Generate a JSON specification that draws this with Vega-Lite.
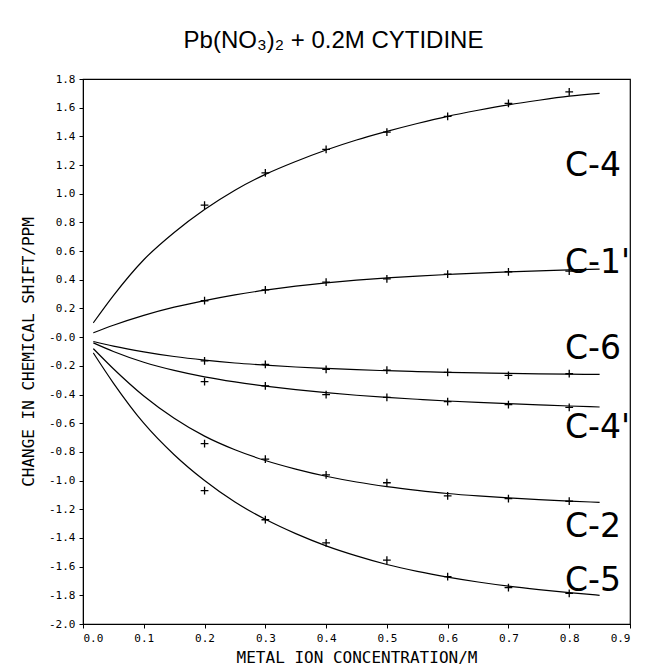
{
  "$schema": "https://vega.github.io/schema/vega-lite/v6.json",
  "autosize": {"type": "none"},
  "padding": {"left": 83, "top": 79, "right": 16, "bottom": 42},
  "width": 547,
  "height": 545,
  "background": "white",
  "title": {
    "text": "Pb(NO₃)₂ + 0.2M CYTIDINE",
    "font": "Liberation Sans",
    "fontSize": 24,
    "fontWeight": "normal",
    "color": "black",
    "anchor": "middle",
    "dx": -23,
    "offset": 20
  },
  "config": {
    "view": {"stroke": "black", "strokeWidth": 1.2},
    "axis": {
      "domainColor": "black",
      "tickColor": "black",
      "labelColor": "black",
      "titleColor": "black",
      "grid": false,
      "labelFont": "DejaVu Sans Mono",
      "titleFont": "DejaVu Sans Mono",
      "labelFontSize": 11,
      "titleFontSize": 16,
      "titleFontWeight": "normal",
      "tickSize": 4,
      "labelOverlap": false
    }
  },
  "datasets": {
    "curves": [
      {"series": "C-4", "x": 0.017, "y": 0.10},
      {"series": "C-4", "x": 0.05, "y": 0.29},
      {"series": "C-4", "x": 0.1, "y": 0.54},
      {"series": "C-4", "x": 0.15, "y": 0.73},
      {"series": "C-4", "x": 0.2, "y": 0.89},
      {"series": "C-4", "x": 0.25, "y": 1.025},
      {"series": "C-4", "x": 0.3, "y": 1.135},
      {"series": "C-4", "x": 0.35, "y": 1.225},
      {"series": "C-4", "x": 0.4, "y": 1.305},
      {"series": "C-4", "x": 0.45, "y": 1.375},
      {"series": "C-4", "x": 0.5, "y": 1.435},
      {"series": "C-4", "x": 0.55, "y": 1.49},
      {"series": "C-4", "x": 0.6, "y": 1.54},
      {"series": "C-4", "x": 0.65, "y": 1.582},
      {"series": "C-4", "x": 0.7, "y": 1.62},
      {"series": "C-4", "x": 0.75, "y": 1.652},
      {"series": "C-4", "x": 0.8, "y": 1.68},
      {"series": "C-4", "x": 0.85, "y": 1.70},
      {"series": "C-1'", "x": 0.017, "y": 0.03},
      {"series": "C-1'", "x": 0.05, "y": 0.083},
      {"series": "C-1'", "x": 0.1, "y": 0.152},
      {"series": "C-1'", "x": 0.15, "y": 0.209},
      {"series": "C-1'", "x": 0.2, "y": 0.255},
      {"series": "C-1'", "x": 0.25, "y": 0.295},
      {"series": "C-1'", "x": 0.3, "y": 0.328},
      {"series": "C-1'", "x": 0.35, "y": 0.356},
      {"series": "C-1'", "x": 0.4, "y": 0.379},
      {"series": "C-1'", "x": 0.45, "y": 0.398},
      {"series": "C-1'", "x": 0.5, "y": 0.413},
      {"series": "C-1'", "x": 0.55, "y": 0.426},
      {"series": "C-1'", "x": 0.6, "y": 0.437},
      {"series": "C-1'", "x": 0.65, "y": 0.447},
      {"series": "C-1'", "x": 0.7, "y": 0.455},
      {"series": "C-1'", "x": 0.75, "y": 0.462},
      {"series": "C-1'", "x": 0.8, "y": 0.469},
      {"series": "C-1'", "x": 0.85, "y": 0.475},
      {"series": "C-6", "x": 0.017, "y": -0.03},
      {"series": "C-6", "x": 0.05, "y": -0.062},
      {"series": "C-6", "x": 0.1, "y": -0.102},
      {"series": "C-6", "x": 0.15, "y": -0.135},
      {"series": "C-6", "x": 0.2, "y": -0.16},
      {"series": "C-6", "x": 0.25, "y": -0.18},
      {"series": "C-6", "x": 0.3, "y": -0.195},
      {"series": "C-6", "x": 0.35, "y": -0.208},
      {"series": "C-6", "x": 0.4, "y": -0.218},
      {"series": "C-6", "x": 0.45, "y": -0.227},
      {"series": "C-6", "x": 0.5, "y": -0.234},
      {"series": "C-6", "x": 0.55, "y": -0.24},
      {"series": "C-6", "x": 0.6, "y": -0.245},
      {"series": "C-6", "x": 0.65, "y": -0.249},
      {"series": "C-6", "x": 0.7, "y": -0.253},
      {"series": "C-6", "x": 0.75, "y": -0.256},
      {"series": "C-6", "x": 0.8, "y": -0.258},
      {"series": "C-6", "x": 0.85, "y": -0.26},
      {"series": "C-4'", "x": 0.017, "y": -0.04},
      {"series": "C-4'", "x": 0.05, "y": -0.10},
      {"series": "C-4'", "x": 0.1, "y": -0.175},
      {"series": "C-4'", "x": 0.15, "y": -0.232},
      {"series": "C-4'", "x": 0.2, "y": -0.277},
      {"series": "C-4'", "x": 0.25, "y": -0.312},
      {"series": "C-4'", "x": 0.3, "y": -0.341},
      {"series": "C-4'", "x": 0.35, "y": -0.366},
      {"series": "C-4'", "x": 0.4, "y": -0.387},
      {"series": "C-4'", "x": 0.45, "y": -0.405},
      {"series": "C-4'", "x": 0.5, "y": -0.42},
      {"series": "C-4'", "x": 0.55, "y": -0.433},
      {"series": "C-4'", "x": 0.6, "y": -0.445},
      {"series": "C-4'", "x": 0.65, "y": -0.455},
      {"series": "C-4'", "x": 0.7, "y": -0.464},
      {"series": "C-4'", "x": 0.75, "y": -0.472},
      {"series": "C-4'", "x": 0.8, "y": -0.48},
      {"series": "C-4'", "x": 0.85, "y": -0.487},
      {"series": "C-2", "x": 0.017, "y": -0.08},
      {"series": "C-2", "x": 0.05, "y": -0.22},
      {"series": "C-2", "x": 0.1, "y": -0.41},
      {"series": "C-2", "x": 0.15, "y": -0.565},
      {"series": "C-2", "x": 0.2, "y": -0.69},
      {"series": "C-2", "x": 0.25, "y": -0.785},
      {"series": "C-2", "x": 0.3, "y": -0.86},
      {"series": "C-2", "x": 0.35, "y": -0.92},
      {"series": "C-2", "x": 0.4, "y": -0.97},
      {"series": "C-2", "x": 0.45, "y": -1.01},
      {"series": "C-2", "x": 0.5, "y": -1.042},
      {"series": "C-2", "x": 0.55, "y": -1.068},
      {"series": "C-2", "x": 0.6, "y": -1.09},
      {"series": "C-2", "x": 0.65, "y": -1.107},
      {"series": "C-2", "x": 0.7, "y": -1.121},
      {"series": "C-2", "x": 0.75, "y": -1.133},
      {"series": "C-2", "x": 0.8, "y": -1.143},
      {"series": "C-2", "x": 0.85, "y": -1.152},
      {"series": "C-5", "x": 0.017, "y": -0.11},
      {"series": "C-5", "x": 0.05, "y": -0.32},
      {"series": "C-5", "x": 0.1, "y": -0.60},
      {"series": "C-5", "x": 0.15, "y": -0.82},
      {"series": "C-5", "x": 0.2, "y": -1.00},
      {"series": "C-5", "x": 0.25, "y": -1.15},
      {"series": "C-5", "x": 0.3, "y": -1.27},
      {"series": "C-5", "x": 0.35, "y": -1.37},
      {"series": "C-5", "x": 0.4, "y": -1.455},
      {"series": "C-5", "x": 0.45, "y": -1.525},
      {"series": "C-5", "x": 0.5, "y": -1.585},
      {"series": "C-5", "x": 0.55, "y": -1.633},
      {"series": "C-5", "x": 0.6, "y": -1.673},
      {"series": "C-5", "x": 0.65, "y": -1.707},
      {"series": "C-5", "x": 0.7, "y": -1.736},
      {"series": "C-5", "x": 0.75, "y": -1.76},
      {"series": "C-5", "x": 0.8, "y": -1.781},
      {"series": "C-5", "x": 0.85, "y": -1.80}
    ],
    "points": [
      {"series": "C-4", "x": 0.2, "y": 0.92},
      {"series": "C-4", "x": 0.3, "y": 1.145},
      {"series": "C-4", "x": 0.4, "y": 1.31},
      {"series": "C-4", "x": 0.5, "y": 1.43},
      {"series": "C-4", "x": 0.6, "y": 1.54},
      {"series": "C-4", "x": 0.7, "y": 1.63},
      {"series": "C-4", "x": 0.8, "y": 1.71},
      {"series": "C-1'", "x": 0.2, "y": 0.254},
      {"series": "C-1'", "x": 0.3, "y": 0.33},
      {"series": "C-1'", "x": 0.4, "y": 0.384},
      {"series": "C-1'", "x": 0.5, "y": 0.407},
      {"series": "C-1'", "x": 0.6, "y": 0.44},
      {"series": "C-1'", "x": 0.7, "y": 0.456},
      {"series": "C-1'", "x": 0.8, "y": 0.46},
      {"series": "C-6", "x": 0.2, "y": -0.165},
      {"series": "C-6", "x": 0.3, "y": -0.19},
      {"series": "C-6", "x": 0.4, "y": -0.225},
      {"series": "C-6", "x": 0.5, "y": -0.23},
      {"series": "C-6", "x": 0.6, "y": -0.246},
      {"series": "C-6", "x": 0.7, "y": -0.267},
      {"series": "C-6", "x": 0.8, "y": -0.255},
      {"series": "C-4'", "x": 0.2, "y": -0.31},
      {"series": "C-4'", "x": 0.3, "y": -0.34},
      {"series": "C-4'", "x": 0.4, "y": -0.40},
      {"series": "C-4'", "x": 0.5, "y": -0.42},
      {"series": "C-4'", "x": 0.6, "y": -0.45},
      {"series": "C-4'", "x": 0.7, "y": -0.47},
      {"series": "C-4'", "x": 0.8, "y": -0.49},
      {"series": "C-2", "x": 0.2, "y": -0.742},
      {"series": "C-2", "x": 0.3, "y": -0.85},
      {"series": "C-2", "x": 0.4, "y": -0.96},
      {"series": "C-2", "x": 0.5, "y": -1.015},
      {"series": "C-2", "x": 0.6, "y": -1.107},
      {"series": "C-2", "x": 0.7, "y": -1.126},
      {"series": "C-2", "x": 0.8, "y": -1.144},
      {"series": "C-5", "x": 0.2, "y": -1.07},
      {"series": "C-5", "x": 0.3, "y": -1.273},
      {"series": "C-5", "x": 0.4, "y": -1.435},
      {"series": "C-5", "x": 0.5, "y": -1.555},
      {"series": "C-5", "x": 0.6, "y": -1.67},
      {"series": "C-5", "x": 0.7, "y": -1.747},
      {"series": "C-5", "x": 0.8, "y": -1.786}
    ],
    "labels": [
      {"label": "C-4", "x": 0.793, "y": 1.195},
      {"label": "C-1'", "x": 0.793, "y": 0.52},
      {"label": "C-6", "x": 0.793, "y": -0.085},
      {"label": "C-4'", "x": 0.793, "y": -0.635},
      {"label": "C-2", "x": 0.793, "y": -1.325},
      {"label": "C-5", "x": 0.793, "y": -1.7}
    ]
  },
  "encoding": {
    "x": {
      "field": "x", "type": "quantitative",
      "scale": {"domain": [0, 0.9], "nice": false, "zero": false},
      "axis": {
        "title": "METAL ION CONCENTRATION/M",
        "values": [0, 0.1, 0.2, 0.3, 0.4, 0.5, 0.6, 0.7, 0.8, 0.9],
        "format": ".1f",
        "labelPadding": 4,
        "titlePadding": 6,
        "labelOverlap": false
      }
    },
    "y": {
      "field": "y", "type": "quantitative",
      "scale": {"domain": [-2, 1.8], "nice": false, "zero": false},
      "axis": {
        "title": "CHANGE IN CHEMICAL SHIFT/PPM",
        "values": [-2, -1.8, -1.6, -1.4, -1.2, -1, -0.8, -0.6, -0.4, -0.2, 0, 0.2, 0.4, 0.6, 0.8, 1, 1.2, 1.4, 1.6, 1.8],
        "labelExpr": "(datum.value < 0.01 ? '-' : '') + format(abs(datum.value), '.1f')",
        "labelPadding": 4,
        "titlePadding": 12,
        "labelOverlap": false,
        "labelFlush": false,
        "labelBound": false
      }
    }
  },
  "layer": [
    {
      "data": {"name": "curves"},
      "mark": {"type": "line", "interpolate": "monotone", "color": "black", "strokeWidth": 1.2},
      "encoding": {"detail": {"field": "series"}}
    },
    {
      "data": {"name": "points"},
      "mark": {"type": "point", "shape": "M-1,0L1,0M0,-1L0,1", "filled": false, "color": "black", "strokeWidth": 1.3, "size": 60, "opacity": 1},
      "encoding": {}
    },
    {
      "data": {"name": "labels"},
      "mark": {"type": "text", "font": "DejaVu Sans", "fontSize": 33, "align": "left", "baseline": "middle", "color": "black"},
      "encoding": {"text": {"field": "label"}}
    }
  ]
}
